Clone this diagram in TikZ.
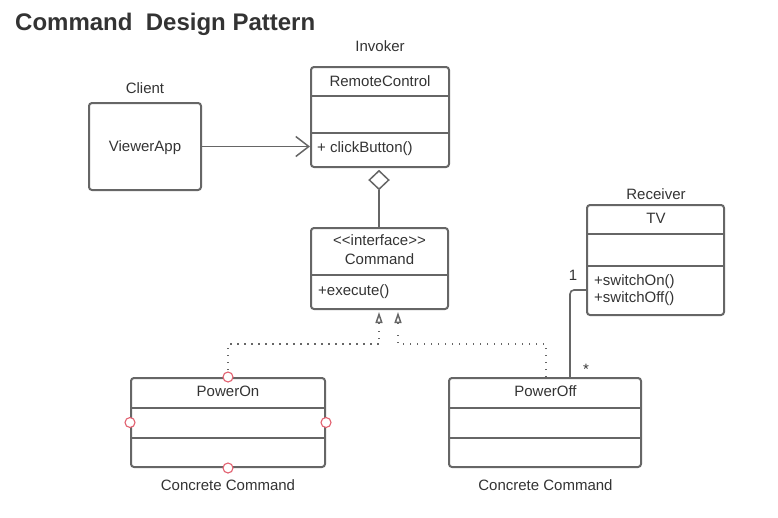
\documentclass[tikz,border=0pt]{standalone}
\usepackage{fontspec}
\setmainfont{Liberation Sans}
\usetikzlibrary{arrows.meta,calc,shapes.geometric}
\definecolor{ink}{HTML}{333333}
\definecolor{edge}{HTML}{666666}
\definecolor{pin}{HTML}{E2606F}
\begin{document}
\begin{tikzpicture}[x=1pt,y=-1pt,
  font=\fontsize{15}{18}\selectfont, text=ink,
  umlbox/.style={draw=edge, line width=2pt, rounded corners=3pt, inner sep=0pt},
  lbl/.style={anchor=base, inner sep=0pt},
  lbll/.style={anchor=base west, inner sep=0pt},
  sep/.style={draw=edge, line width=2pt},
  realize/.style={draw=edge, line width=1.5pt, dash pattern=on 1.5pt off 5.5pt},
  tipline/.style={draw=edge, line width=1.5pt, -{Triangle[open, length=11pt, width=7pt, line width=1.5pt]}},
  assoc/.style={draw=edge, line width=1.6pt, rounded corners=4pt},
  pinc/.style={circle, draw=pin, fill=white, line width=1.1pt, minimum size=10pt, inner sep=0pt}]
\useasboundingbox (0,0) rectangle (778,517);

% title
\node[anchor=base west, inner sep=0pt, font=\fontsize{24}{28}\selectfont\bfseries] (title) at (15,30) {Command~ Design Pattern};

% boxes
\node[umlbox, minimum width=112pt, minimum height=87pt] (client) at (145,146.5) {};
\node[umlbox, minimum width=138pt, minimum height=100pt] (rc) at (380,117) {};
\node[umlbox, minimum width=137pt, minimum height=81pt] (cmd) at (379.5,268.5) {};
\node[umlbox, minimum width=137pt, minimum height=110pt] (tv) at (655.5,260) {};
\node[umlbox, minimum width=194pt, minimum height=89pt] (pon) at (228,422.5) {};
\node[umlbox, minimum width=192pt, minimum height=89pt] (poff) at (545,422.5) {};

% compartments
\draw[sep] (rc.west |- 0,96) -- (rc.east |- 0,96);
\draw[sep] (rc.west |- 0,133) -- (rc.east |- 0,133);
\draw[sep] (cmd.west |- 0,275) -- (cmd.east |- 0,275);
\draw[sep] (tv.west |- 0,234) -- (tv.east |- 0,234);
\draw[sep] (tv.west |- 0,266) -- (tv.east |- 0,266);
\draw[sep] (pon.west |- 0,408) -- (pon.east |- 0,408);
\draw[sep] (pon.west |- 0,438) -- (pon.east |- 0,438);
\draw[sep] (poff.west |- 0,408) -- (poff.east |- 0,408);
\draw[sep] (poff.west |- 0,438) -- (poff.east |- 0,438);

% labels
\node[lbl] (lclient) at (145,93) {Client};
\node[lbl] (lviewer) at (145,151) {ViewerApp};
\node[lbl] (linvoker) at (380,51) {Invoker};
\node[lbl] (lrc) at (380,86) {RemoteControl};
\node[lbll] (lclick) at (317,152) {+ clickButton()};
\node[lbl] (lint) at (379.5,245) {<{}<interface>{}>};
\node[lbl] (lcmd) at (379.5,264) {Command};
\node[lbll] (lexec) at (318,295) {+execute()};
\node[lbl] (lrecv) at (656,199) {Receiver};
\node[lbl] (ltv) at (656,223) {TV};
\node[lbll] (lon) at (594,285) {+switchOn()};
\node[lbll] (loff) at (594,302) {+switchOff()};
\node[lbl] (lpon) at (228,396.5) {PowerOn};
\node[lbl] (lpoff) at (545.5,396.5) {PowerOff};
\node[lbl] (lcc1) at (228,490) {Concrete Command};
\node[lbl] (lcc2) at (545.5,490) {Concrete Command};
\node[lbl] (lone) at (573,280) {1};
\node[lbl] (lstar) at (586,374) {*};

% client -> invoker
\draw[draw=edge, line width=1.5pt, -{Straight Barb[length=13pt, width=20pt, line width=1.5pt]}] (client.east) -- (rc.west |- client.east);

% aggregation
\node[diamond, draw=edge, fill=white, line width=1.5pt, minimum width=20pt, minimum height=19pt, inner sep=0pt] (agg) at (379,180) {};
\draw[draw=edge, line width=1.6pt] (agg.south) -- (agg.south |- cmd.north);

% realization
\coordinate (j1) at (379,344);
\coordinate (j2) at (398,344);
\coordinate (b1) at (379,330);
\coordinate (b2) at (398,330);
\coordinate (c1) at (379,324);
\coordinate (c2) at (398,324);
\coordinate (t1) at (379,312);
\coordinate (t2) at (398,312);
\draw[realize] (pon.north) |- (j1) -- (b1);
\draw[realize] ([xshift=1pt]poff.north) |- (j2) -- (b2);
\draw[tipline] (c1) -- (t1);
\draw[tipline] (c2) -- (t2);

% association
\draw[assoc] ([xshift=25pt]poff.north) |- (tv.west |- 0,290);

% connection pins
\node[pinc] (p1) at (pon.north) {};
\node[pinc] (p2) at (pon.west) {};
\node[pinc] (p3) at (pon.east) {};
\node[pinc] (p4) at (pon.south) {};
\end{tikzpicture}
\end{document}
